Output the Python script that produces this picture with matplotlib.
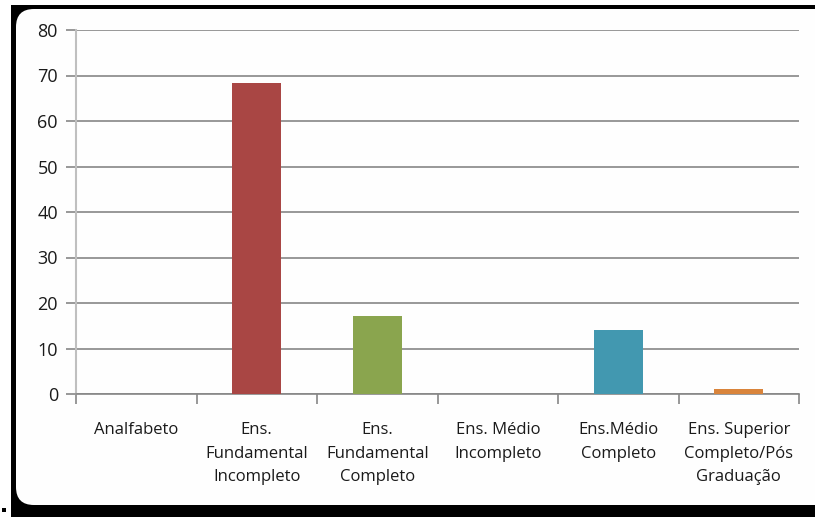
import matplotlib
matplotlib.use("Agg")
import matplotlib.pyplot as plt
from matplotlib.patches import FancyBboxPatch, Rectangle

categories = ["Analfabeto", "Ens.\nFundamental\nIncompleto", "Ens.\nFundamental\nCompleto",
              "Ens. Médio\nIncompleto", "Ens.Médio\nCompleto", "Ens. Superior\nCompleto/Pós\nGraduação"]
values = [0, 68.3, 17.1, 0, 14.0, 1.1]
colors = ["#4F81BD", "#A94644", "#8AA54E", "#7F63A0", "#4298B0", "#D9843B"]

plt.rcParams["font.family"] = ["Open Sans", "DejaVu Sans"]

W, H = 815, 517
fig = plt.figure(figsize=(W / 100, H / 100), dpi=100)
fig.patch.set_facecolor("white")

# black frame with a rounded white panel on top
fig.add_artist(Rectangle((11 / W, 0), 1, 1 - 5 / H, transform=fig.transFigure,
                         facecolor="black", edgecolor="none", zorder=0))
fig.add_artist(FancyBboxPatch((16 / W, 1 - 505 / H), 1.2, (505 - 9) / H,
                              boxstyle="round,pad=0,rounding_size=0.022",
                              transform=fig.transFigure, mutation_aspect=W / H,
                              facecolor="#FEFEFE", edgecolor="none", zorder=1))
fig.add_artist(Rectangle((2 / W, 1 - 512 / H), 4 / W, 4 / H, transform=fig.transFigure,
                         facecolor="black", edgecolor="none", zorder=1))

ax = fig.add_axes([76 / W, 1 - 394 / H, (799 - 76) / W, 364 / H])
ax.set_zorder(2)
ax.patch.set_alpha(0)

x = range(len(categories))
ax.bar(x, values, width=0.41, color=colors, edgecolor="none", zorder=3)

ax.set_ylim(0, 80)
ax.set_xlim(-0.5, len(categories) - 0.5)
ax.set_yticks(range(0, 81, 10))
ax.yaxis.grid(True, color="#868686", linewidth=1.2)
ax.set_axisbelow(True)

ax.set_xticks(list(x))
ax.set_xticklabels(categories, fontsize=12, linespacing=1.65, color="#1a1a1a")
ax.set_xticks([i - 0.5 for i in range(len(categories) + 1)], minor=True)
ax.tick_params(axis="x", which="major", length=0, pad=20)
ax.tick_params(axis="x", which="minor", length=7, color="#868686", width=1.2)
ax.tick_params(axis="y", length=7, color="#868686", width=1.2, labelsize=13,
               labelcolor="#1a1a1a", pad=6)

for s in ["top", "right"]:
    ax.spines[s].set_visible(False)
ax.spines["left"].set_color("#BFBFBF")
ax.spines["left"].set_linewidth(1.5)
ax.spines["bottom"].set_color("#868686")
ax.spines["bottom"].set_linewidth(1.2)

fig.savefig("out.png", dpi=100)
